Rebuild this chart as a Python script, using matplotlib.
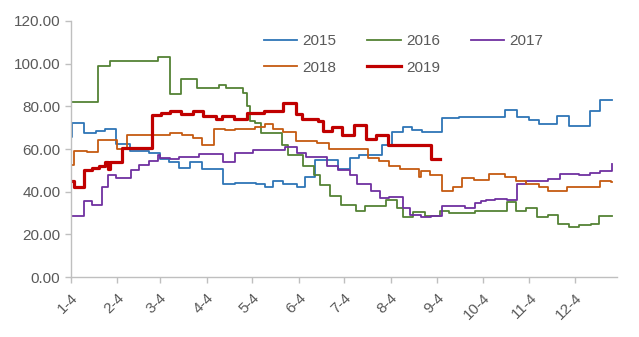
import numpy as np
import pandas as pd
import matplotlib
matplotlib.use("Agg")
import matplotlib.pyplot as plt

# day offsets from Jan 4 where the weekly price level changes, and the level from that day on
days_2015 = [0, 1, 9, 17, 23, 30, 39, 52, 59, 65, 72, 79, 87, 101, 109, 123, 129, 134, 141, 150,
             155, 162, 177, 185, 191, 206, 213, 220, 226, 233, 246, 257, 288, 296, 304, 310, 322, 330, 344, 351, 359]
vals_2015 = [65.6, 72.0, 67.5, 68.6, 69.3, 62.5, 59.2, 58.0, 55.5, 53.9, 51.1, 54.0, 50.6, 43.5, 44.3, 43.5, 42.0, 45.2, 43.8, 42.4,
             47.0, 54.7, 50.4, 55.8, 57.3, 62.0, 68.0, 70.2, 69.1, 67.8, 74.3, 75.0, 78.2, 74.9, 73.5, 71.8, 75.4, 71.0, 77.7, 83.2, 83.2]

days_2016 = [0, 18, 26, 58, 66, 73, 84, 98, 103, 114, 117, 119, 122, 126, 140, 144, 154, 161, 165, 172,
             179, 189, 195, 209, 216, 220, 227, 235, 245, 251, 268, 289, 295, 302, 309, 316, 323, 330, 337, 345, 350, 359]
vals_2016 = [82.1, 98.7, 101.3, 103.3, 85.6, 92.6, 88.7, 90.0, 88.7, 86.4, 80.0, 73.0, 72.3, 67.5, 62.0, 57.3, 51.8, 48.0, 43.2, 38.2,
             33.8, 31.0, 33.3, 36.2, 32.5, 28.0, 30.4, 28.8, 31.1, 29.9, 31.0, 35.0, 31.1, 32.5, 28.0, 29.0, 24.9, 23.6, 24.4, 24.7, 28.5, 28.5]

days_2017 = [0, 9, 14, 21, 25, 30, 40, 45, 52, 58, 59, 66, 72, 85, 101, 109, 121, 142, 150, 156,
             170, 177, 185, 190, 199, 205, 211, 220, 225, 232, 239, 246, 261, 268, 272, 275, 281, 289, 296, 302,
             316, 324, 337, 344, 351, 359]
vals_2017 = [28.5, 35.4, 33.8, 42.0, 47.9, 46.4, 50.0, 52.6, 54.5, 57.3, 55.6, 55.5, 56.1, 57.6, 53.9, 58.1, 59.5, 61.1, 58.1, 56.2,
             52.2, 50.2, 47.9, 43.5, 40.4, 36.9, 37.3, 32.2, 29.1, 28.2, 28.8, 33.5, 32.2, 34.5, 35.7, 36.2, 36.8, 36.2, 43.5, 45.1,
             46.0, 48.4, 47.9, 48.7, 49.8, 52.9]

days_2018 = [0, 2, 11, 18, 31, 37, 66, 74, 81, 87, 95, 102, 109, 122, 129, 134, 141, 149, 163, 171,
             197, 204, 211, 218, 231, 232, 238, 246, 253, 259, 267, 277, 288, 295, 302, 310, 316, 329, 336, 343,
             351, 358, 359]
vals_2018 = [52.6, 59.2, 58.6, 64.1, 60.2, 66.4, 67.4, 66.7, 65.2, 62.0, 69.6, 69.1, 69.6, 70.4, 71.6, 69.4, 68.0, 63.9, 62.8, 60.0,
             55.8, 54.2, 51.8, 50.6, 46.7, 49.5, 47.6, 40.4, 42.1, 46.4, 45.6, 48.1, 46.8, 44.9, 43.8, 42.0, 40.2, 42.4, 42.0, 42.4,
             45.2, 44.5, 44.5]

days_2019 = [0, 2, 9, 14, 19, 23, 25, 26, 34, 54, 60, 66, 73, 81, 88, 96, 100, 108, 117, 128,
             141, 149, 153, 164, 167, 173, 180, 188, 196, 202, 210, 239, 245]
vals_2019 = [44.8, 42.1, 50.3, 51.1, 51.8, 53.7, 50.7, 53.7, 60.5, 75.8, 77.0, 78.0, 76.5, 78.0, 75.7, 74.1, 75.4, 74.1, 77.0, 78.0,
             81.5, 76.2, 74.1, 73.0, 68.6, 70.2, 66.7, 71.1, 64.9, 66.7, 62.0, 55.4, 55.4]

series_names = ["2015", "2016", "2017", "2018", "2019"]
tick_labels = ["1-4", "2-4", "3-4", "4-4", "5-4", "6-4", "7-4", "8-4", "9-4", "10-4", "11-4", "12-4"]
y_ticks = [0, 20, 40, 60, 80, 100, 120]

start = pd.Timestamp("2019-01-04")

def to_dates(days):
    return [start + pd.Timedelta(days=d) for d in days]

series = [
    (days_2015, vals_2015, "#2E75B6", 1.3),
    (days_2016, vals_2016, "#548235", 1.3),
    (days_2017, vals_2017, "#7030A0", 1.3),
    (days_2018, vals_2018, "#C55A11", 1.3),
    (days_2019, vals_2019, "#C00000", 2.3),
]

plt.rcParams['font.family'] = ['Liberation Sans', 'DejaVu Sans']

fig = plt.figure(figsize=(6.39, 3.37), dpi=100)
ax = fig.add_axes([0.1106, 0.178, 0.855, 0.7597])

lines = []
for (d, v, c, lw), name in zip(series, series_names):
    ln, = ax.plot(to_dates(d), v, drawstyle='steps-post', color=c, linewidth=lw, label=name)
    lines.append(ln)

ax.set_ylim(0, 120)
ax.set_yticks(y_ticks)
ax.set_yticklabels([f"{t:.2f}" for t in y_ticks])
ax.set_xlim(start, start + pd.Timedelta(days=362))
tick_dates = [pd.Timestamp(f"2019-{m:02d}-04") for m in range(1, 13)]
ax.set_xticks(tick_dates)
ax.set_xticklabels(tick_labels, rotation=45, ha='right', rotation_mode='anchor')

for side in ['top', 'right']:
    ax.spines[side].set_visible(False)
for side in ['left', 'bottom']:
    ax.spines[side].set_color('#BFBFBF')
    ax.spines[side].set_linewidth(1.0)
ax.tick_params(axis='both', colors='#BFBFBF', length=4, width=1.0, labelcolor='#595959', labelsize=11)
ax.tick_params(axis='x', pad=6)

# legend is filled column by column, so reorder to read 2015 2016 2017 / 2018 2019 by rows
order = [0, 3, 1, 4, 2]
fig.legend([lines[i] for i in order], [series_names[i] for i in order],
           loc='upper left', bbox_to_anchor=(0.391, 0.939), ncol=3, frameon=False,
           fontsize=11, handlelength=2.2, handletextpad=0.35, columnspacing=2.0,
           labelspacing=0.8, labelcolor='#595959')

fig.savefig("out.png", dpi=100)
